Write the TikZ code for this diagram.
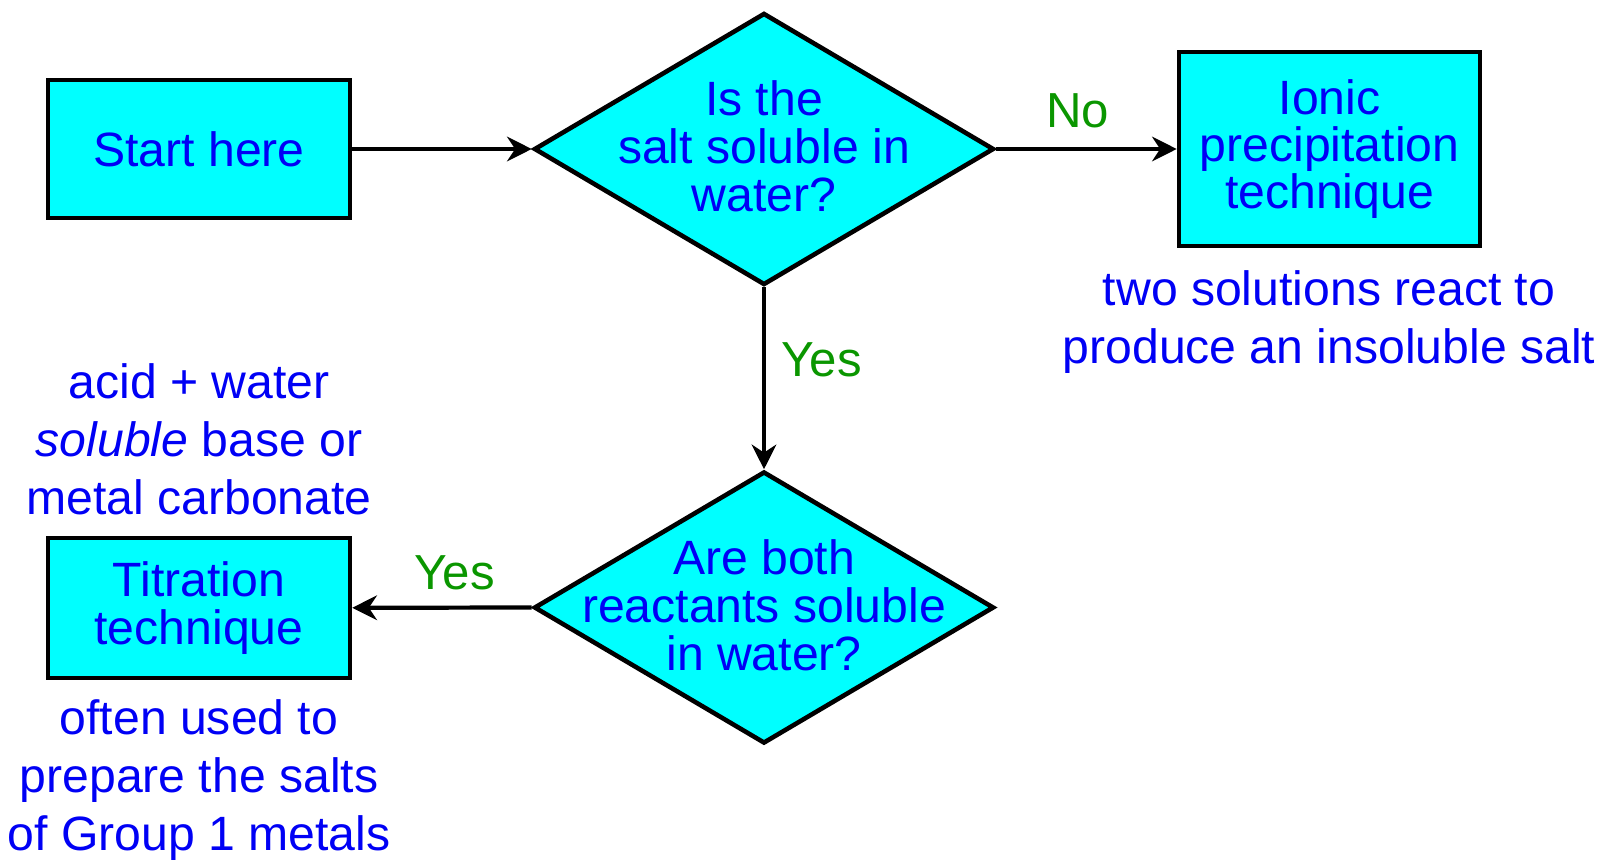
\documentclass[tikz,border=0pt]{standalone}
\usepackage{fontspec}
\setmainfont{Liberation Sans}
\usetikzlibrary{arrows.meta,shapes.geometric}
\definecolor{boxcyan}{HTML}{00FFFF}
\definecolor{textblue}{HTML}{0000F5}
\definecolor{answergreen}{HTML}{0A9600}

\begin{document}
\begin{tikzpicture}[
    box/.style={draw=black,line width=1.3pt,fill=boxcyan,minimum width=3.02cm,inner sep=0pt,text=textblue,align=center,font=\fontsize{13.7}{13.5}\selectfont},
    decision/.style={diamond,draw=black,line width=1.3pt,fill=boxcyan,minimum width=4.6cm,minimum height=2.72cm,inner sep=0pt},
    btext/.style={text=textblue,align=center,font=\fontsize{13.7}{13.6}\selectfont},
    note/.style={text=textblue,align=center,font=\fontsize{13.7}{16.5}\selectfont},
    answer/.style={text=answergreen,font=\fontsize{14}{16}\selectfont},
    flow/.style={line width=1.2pt,-{Stealth[length=7pt,width=7pt]}}
  ]
    \useasboundingbox (0,0) rectangle (16,8.59);
    \node[box,minimum height=1.38cm] (start) at (1.99,7.10) {Start here};
    \node[decision] (soluble) at (7.64,7.10) {};
    \node[btext] (solubletext) at ([yshift=0.03cm]soluble) {Is the\\salt soluble in\\water?};
    \node[box,minimum width=3.01cm,minimum height=1.94cm] (ionic) at (13.295,7.10) {Ionic\\precipitation\\technique};
    \node[decision] (both) at (7.64,2.515) {};
    \node[btext] (bothtext) at ([yshift=0.02cm]both) {Are both\\reactants soluble\\in water?};
    \node[box,minimum height=1.40cm] (titration) at (1.99,2.51) {Titration\\technique};
    \node[note] (acidnote) at (1.99,4.20) {acid + water\\\textit{soluble} base or\\metal carbonate};
    \node[note] (ionicnote) at (13.29,5.365) {two solutions react to\\produce an insoluble salt};
    \node[note] (titrationnote) at (1.99,0.79) {often used to\\prepare the salts\\of Group 1 metals};
    \draw[flow] (start) -- (soluble.west);
    \draw[flow] (soluble.east) -- node[answer,pos=0.45,above=2pt] (no) {No} (ionic);
    \draw[flow] (soluble.south) -- node[answer,pos=0.4,right=1pt] (yesdown) {Yes} (both.north);
    \draw[flow] (both.west) -- node[answer,pos=0.43,above=1pt] (yesleft) {Yes} (titration);
  \end{tikzpicture}
\end{document}
